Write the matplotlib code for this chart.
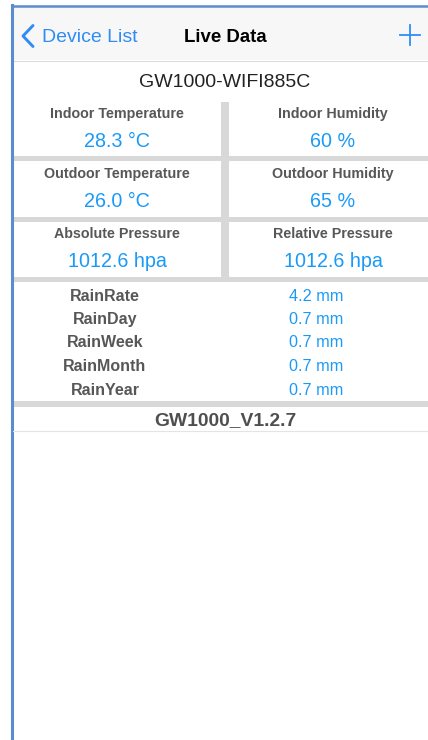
import matplotlib.pyplot as plt

plt.rcParams['font.family'] = ['Liberation Sans', 'DejaVu Sans']

device_name = "GW1000-WIFI885C"
firmware = "GW1000_V1.2.7"
grid_labels = [["Indoor Temperature", "Indoor Humidity"],
               ["Outdoor Temperature", "Outdoor Humidity"],
               ["Absolute Pressure", "Relative Pressure"]]
grid_values = [["28.3 °C", "60 %"],
               ["26.0 °C", "65 %"],
               ["1012.6 hpa", "1012.6 hpa"]]
rain_labels = ["RainRate", "RainDay", "RainWeek", "RainMonth", "RainYear"]
rain_values = ["4.2 mm", "0.7 mm", "0.7 mm", "0.7 mm", "0.7 mm"]

W, H = 428, 740
blue = "#1a9af7"
nav_blue = "#2f8cf6"
label_gray = "#575757"
sep = "#d8d8d8"
dy = 1.8  # va=center sits a bit high, push text down

fig = plt.figure(figsize=(W / 100, H / 100), dpi=100)
ax = fig.add_axes([0, 0, 1, 1])
ax.set_xlim(0, W)
ax.set_ylim(H, 0)
ax.axis("off")

# nav bar
ax.fill_between([13, W], 7, 60, color="#f7f7f7", lw=0)
ax.plot([13, W], [60.5, 60.5], color="#dcdcdc", lw=0.8)
ax.plot([33, 23, 33], [25.5, 36, 46.5], color=nav_blue, lw=2.1, solid_capstyle="round", solid_joinstyle="round")
ax.text(42, 36 + dy, "Device List", color=nav_blue, fontsize=14, ha="left", va="center")
ax.text(225, 36 + dy, "Live Data", color="black", fontsize=13.4, fontweight="bold", ha="center", va="center")
ax.plot([400, 420], [35, 35], color=nav_blue, lw=1.3)
ax.plot([410, 410], [25, 45], color=nav_blue, lw=1.3)

# frame
ax.plot([12, W], [6, 6], color="#5b8dcc", lw=1.8)
ax.plot([12, 12], [5, H], color="#5b8dcc", lw=2.2)

ax.text(225, 81 + dy, device_name, color="#222222", fontsize=14, ha="center", va="center")

# grid
col_x = [117, 333]
row_y = [102, 158.5, 219, 279.5]
ax.fill_between([221, 229], 102, 279, color=sep, lw=0)
for y in row_y[1:]:
    ax.fill_between([13, W], y - 2.5, y + 2.5, color=sep, lw=0)
for i in range(3):
    for j in range(2):
        ax.text(col_x[j], 112 + i * 60 + dy, grid_labels[i][j], color=label_gray, fontsize=10.3,
                fontweight="bold", ha="center", va="center")
        ax.text(col_x[j], 139.5 + i * 60 + dy, grid_values[i][j], color=blue, fontsize=14.2,
                ha="center", va="center")

# rain
rain_y = [295, 318, 341, 365, 388.5]
for lab, val, y in zip(rain_labels, rain_values, rain_y):
    ax.text(105, y + dy, lab, color=label_gray, fontsize=11.5, fontweight="bold", ha="center", va="center")
    ax.text(316, y + dy, val, color=blue, fontsize=11.7, ha="center", va="center")

ax.fill_between([13, W], 400.5, 406.5, color=sep, lw=0)
ax.text(225, 419 + dy, firmware, color="#4f4f4f", fontsize=13.9, fontweight="bold", ha="center", va="center")
ax.plot([13, W], [430.5, 430.5], color="#e4e4e4", lw=0.8)

fig.savefig("out.png", dpi=100)
